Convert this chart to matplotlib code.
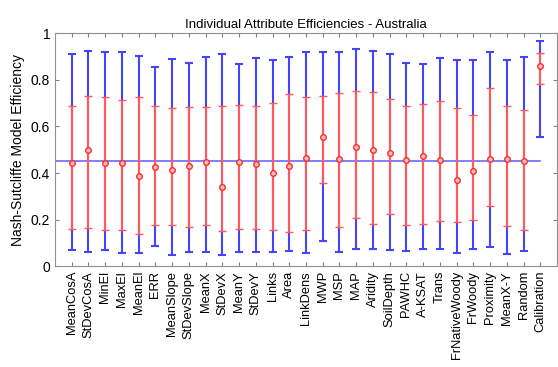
import matplotlib.pyplot as plt
from matplotlib.ticker import FuncFormatter

plt.rcParams['font.family'] = ['Liberation Sans', 'DejaVu Sans']

attributes = ['MeanCosA', 'StDevCosA', 'MinEl', 'MaxEl', 'MeanEl', 'ERR',
              'MeanSlope', 'StDevSlope', 'MeanX', 'StDevX', 'MeanY', 'StDevY',
              'Links', 'Area', 'LinkDens', 'MWP', 'MSP', 'MAP', 'Aridity',
              'SoilDepth', 'PAWHC', 'A-KSAT', 'Trans', 'FrNativeWoody',
              'FrWoody', 'Proximity', 'MeanX-Y', 'Random', 'Calibration']

# full range of efficiencies
eff_min = [0.067, 0.059, 0.069, 0.056, 0.056, 0.086, 0.047, 0.062, 0.059, 0.047,
           0.059, 0.059, 0.059, 0.066, 0.056, 0.106, 0.062, 0.072, 0.072, 0.070,
           0.066, 0.073, 0.073, 0.056, 0.073, 0.082, 0.053, 0.066, 0.556]
eff_max = [0.910, 0.924, 0.918, 0.918, 0.904, 0.854, 0.891, 0.874, 0.897, 0.912,
           0.869, 0.894, 0.884, 0.897, 0.918, 0.918, 0.918, 0.934, 0.925, 0.910,
           0.871, 0.867, 0.895, 0.887, 0.884, 0.918, 0.887, 0.897, 0.968]
# mean +/- one standard deviation
eff_lo = [0.158, 0.163, 0.155, 0.155, 0.138, 0.176, 0.176, 0.169, 0.176, 0.152,
          0.159, 0.159, 0.153, 0.148, 0.153, 0.357, 0.169, 0.206, 0.180, 0.222,
          0.176, 0.179, 0.192, 0.189, 0.198, 0.258, 0.172, 0.153, 0.782]
eff_hi = [0.689, 0.733, 0.726, 0.713, 0.726, 0.689, 0.679, 0.682, 0.685, 0.689,
          0.692, 0.689, 0.699, 0.741, 0.728, 0.729, 0.745, 0.751, 0.750, 0.719,
          0.688, 0.695, 0.708, 0.679, 0.649, 0.764, 0.688, 0.669, 0.915]
eff_mean = [0.444, 0.498, 0.444, 0.444, 0.388, 0.424, 0.414, 0.430, 0.447, 0.340,
            0.447, 0.437, 0.401, 0.430, 0.463, 0.556, 0.460, 0.511, 0.498, 0.487,
            0.458, 0.473, 0.458, 0.370, 0.410, 0.461, 0.461, 0.450, 0.861]
baseline = 0.45

x = list(range(1, len(attributes) + 1))

fig = plt.figure(figsize=(5.58, 3.67), dpi=100)
ax = fig.add_axes([0.0986, 0.275, 0.8996, 0.634])

ax.plot([0, len(attributes)], [baseline, baseline], color='#6a6aff', lw=1.2, zorder=1)

blue_err = [[m - a for m, a in zip(eff_mean, eff_min)],
            [b - m for m, b in zip(eff_mean, eff_max)]]
ax.errorbar(x, eff_mean, yerr=blue_err, fmt='none', ecolor='#4444ff',
            elinewidth=1.5, capsize=3.2, capthick=1.5, zorder=2)

red_err = [[m - a for m, a in zip(eff_mean, eff_lo)],
           [b - m for m, b in zip(eff_mean, eff_hi)]]
ax.errorbar(x, eff_mean, yerr=red_err, fmt='o', color='#ff4040', ecolor='#ff5a5a',
            elinewidth=1.5, capsize=3.2, capthick=1.5, markersize=4,
            markerfacecolor='#ffc0c0', markeredgecolor='#ff2a2a', markeredgewidth=1.0,
            zorder=3)

ax.set_xlim(0, 30)
ax.set_ylim(0, 1)
ax.set_xticks(x)
ax.set_xticklabels(attributes, rotation=90, fontsize=9)
ax.set_yticks([0, 0.2, 0.4, 0.6, 0.8, 1])
ax.yaxis.set_major_formatter(FuncFormatter(lambda v, p: '%g' % v))
ax.tick_params(direction='in', top=True, right=True, length=3, color='#808080',
               labelsize=10)
ax.tick_params(axis='x', labelsize=9.3)
for s in ax.spines.values():
    s.set_color('#909090')

ax.set_title('Individual Attribute Efficiencies - Australia', fontsize=9.5, pad=4)
ax.set_ylabel('Nash-Sutcliffe Model Efficiency', fontsize=10)

fig.savefig('out.png', dpi=100)
